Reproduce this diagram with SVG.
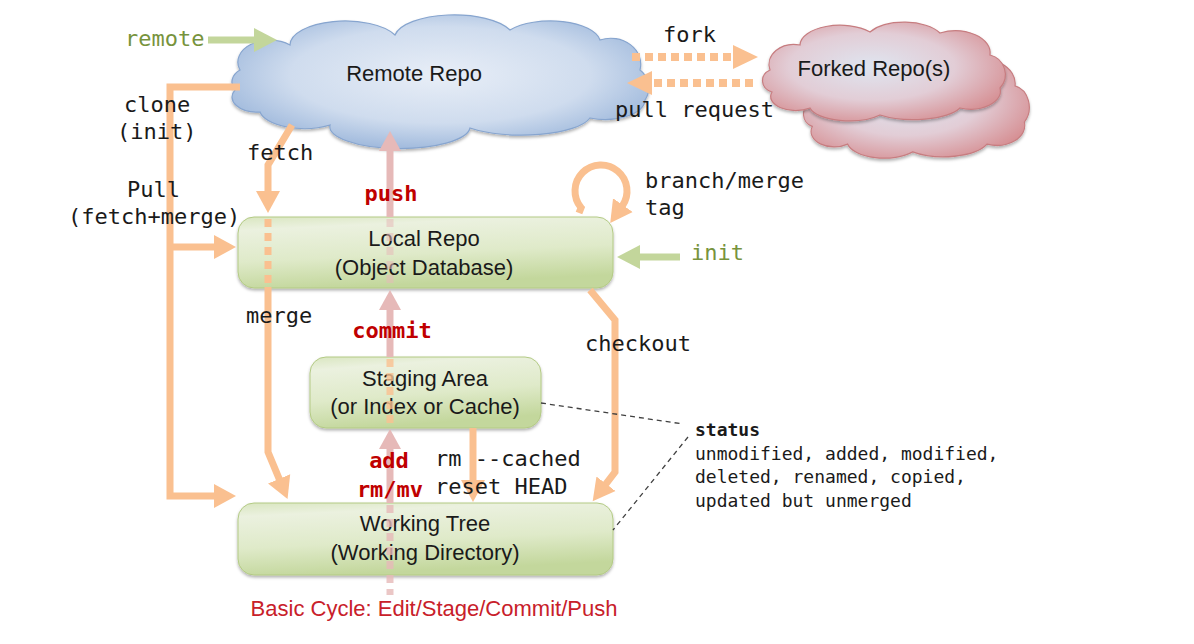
<svg xmlns="http://www.w3.org/2000/svg" width="1194" height="644" viewBox="0 0 1194 644">
<style>
.mono{font-family:"DejaVu Sans Mono","Liberation Mono",monospace;font-size:22px;fill:#1a1a1a}
.green{fill:#77933C}
.red{fill:#C00000;font-weight:bold;text-anchor:middle}
.st{font-family:"DejaVu Sans Mono","Liberation Mono",monospace;font-size:18px;fill:#1a1a1a}
.nt{font-family:"Liberation Sans",Arial,sans-serif;font-size:22px;fill:#1a1a1a;text-anchor:middle}
.box{fill:url(#gBox);stroke:#b3ca84;stroke-width:1;filter:url(#sh)}
.o{fill:none;stroke:#FAC090;stroke-width:7}
.p{fill:none;stroke:#E6B9B8;stroke-width:7}
.g{fill:none;stroke:#C3D69B;stroke-width:7}
.dot{fill:none;stroke:#FAC090;stroke-width:8;stroke-dasharray:8 5}
.dsh{stroke-dasharray:8 6}
.blk{fill:none;stroke:#404040;stroke-width:1.3;stroke-dasharray:5 4}
</style>
<defs>
<linearGradient id="gBox" x1="0" y1="0" x2="0.25" y2="1">
<stop offset="0" stop-color="#d9e6c0"/>
<stop offset="0.18" stop-color="#ebf1df"/>
<stop offset="0.6" stop-color="#dfeac9"/>
<stop offset="1" stop-color="#c3d79c"/>
</linearGradient>
<radialGradient id="gBlue" cx="0.5" cy="0.45" r="0.6">
<stop offset="0" stop-color="#e8eef7"/>
<stop offset="0.6" stop-color="#cfdcee"/>
<stop offset="1" stop-color="#97b3d9"/>
</radialGradient>
<radialGradient id="gRed" cx="0.45" cy="0.45" r="0.62">
<stop offset="0" stop-color="#dfe5f0"/>
<stop offset="0.55" stop-color="#e2cdd6"/>
<stop offset="1" stop-color="#d68f93"/>
</radialGradient>
<filter id="sh" x="-10%" y="-10%" width="120%" height="130%">
<feDropShadow dx="0" dy="2" stdDeviation="1.5" flood-color="#000" flood-opacity="0.3"/>
</filter>
<marker id="ahO" markerUnits="userSpaceOnUse" viewBox="0 -13 24 26" markerWidth="24" markerHeight="26" refX="1" refY="0" orient="auto"><path d="M0,-12 L22,0 L0,12 Z" fill="#FAC090"/></marker>
<marker id="ahF" markerUnits="userSpaceOnUse" viewBox="0 -13 26 26" markerWidth="26" markerHeight="26" refX="0" refY="0" orient="auto"><path d="M0,-12 L25,0 L0,12 Z" fill="#FAC090"/></marker>
<marker id="ahP" markerUnits="userSpaceOnUse" viewBox="0 -12 22 24" markerWidth="22" markerHeight="24" refX="1" refY="0" orient="auto"><path d="M0,-11 L20,0 L0,11 Z" fill="#E6B9B8"/></marker>
<marker id="ahG" markerUnits="userSpaceOnUse" viewBox="0 -13 24 26" markerWidth="24" markerHeight="26" refX="1" refY="0" orient="auto"><path d="M0,-12 L23,0 L0,12 Z" fill="#C3D69B"/></marker>
<path id="fcloud" d="M770,70 A25,20 0 0 1 800,45 A40,20 0 0 1 870,32 A40,20 0 0 1 940,33 A35,22 0 0 1 990,55 A20,20 0 0 1 1000,88 A30,18 0 0 1 960,108 A50,18 0 0 1 880,115 A40,16 0 0 1 810,108 A25,14 0 0 1 772,92 A14,12 0 0 1 770,70 Z"/>
</defs>

<g id="node-remote">
<path d="M240,70 A32,22 0 0 1 290,45 A55,24 0 0 1 395,35 A60,24 0 0 1 510,30 A50,22 0 0 1 600,40 A30,26 0 0 1 640,70 A22,22 0 0 1 645,100 A40,20 0 0 1 590,118 A70,22 0 0 1 470,128 A70,22 0 0 1 330,125 A45,20 0 0 1 260,112 A25,15 0 0 1 235,90 A20,15 0 0 1 240,70 Z" fill="url(#gBlue)" stroke="#87a5cf" stroke-width="1.2" filter="url(#sh)"/>
<text class="nt" x="414" y="81">Remote Repo</text>
</g>

<g id="node-forked">
<use href="#fcloud" transform="translate(803,55) scale(0.93,1.1) translate(-762,-27)" fill="url(#gRed)" stroke="#c77d80" stroke-width="1.2" filter="url(#sh)"/>
<use href="#fcloud" fill="url(#gRed)" stroke="#c77d80" stroke-width="1.2" filter="url(#sh)"/>
<text class="nt" x="874" y="76">Forked Repo(s)</text>
</g>

<g id="node-local">
<rect class="box" x="238" y="217" width="375" height="71" rx="16"/>
<text class="nt" x="424" y="246">Local Repo</text>
<text class="nt" x="424" y="275">(Object Database)</text>
</g>

<g id="node-staging">
<rect class="box" x="310" y="357" width="231" height="71" rx="16"/>
<text class="nt" x="425" y="386">Staging Area</text>
<text class="nt" x="425" y="414">(or Index or Cache)</text>
</g>

<g id="node-working">
<rect class="box" x="238" y="503" width="375" height="72" rx="16"/>
<text class="nt" x="425" y="531">Working Tree</text>
<text class="nt" x="425" y="560">(Working Directory)</text>
</g>

<g id="connectors">
<path class="o" d="M240,87 H170 V496 H215" marker-end="url(#ahO)"/>
<path class="o" d="M170,247 H215" marker-end="url(#ahO)"/>
<path class="o" d="M292,125 L268,165 V192" marker-end="url(#ahO)"/>
<path class="o dsh" d="M268,219 V287"/>
<path class="o" d="M268,287 V452 L279.5,479.7" marker-end="url(#ahO)"/>
<path class="o" d="M590,290 L615,320 V472 L605.4,484.6" marker-end="url(#ahO)"/>
<path class="o" d="M473,428 V481" marker-end="url(#ahO)"/>
<path class="o" d="M579,213 L581.1,207.7 A26,26 0 1 1 622.3,205.9" marker-end="url(#ahO)"/>
<path class="p" d="M390,217 V150" marker-end="url(#ahP)"/>
<path class="p" d="M390,357 V309" marker-end="url(#ahP)"/>
<path class="p" d="M390,503 V448" marker-end="url(#ahP)"/>
<path class="p dsh" d="M390,219 V287" opacity="0.55"/>
<path class="o dsh" d="M390,359 V427" opacity="0.8"/>
<path class="p dsh" d="M390,505 V595" opacity="0.8"/>
<path class="g" d="M208,40 H255" marker-end="url(#ahG)"/>
<path class="g" d="M680,257 H639" marker-end="url(#ahG)"/>
<path class="dot" d="M632,57 H733" marker-end="url(#ahF)"/>
<path class="dot" d="M753,83 H652" marker-end="url(#ahF)"/>
<path class="blk" d="M541,403 L683,424"/>
<path class="blk" d="M688,437 L613,530"/>
</g>

<g id="labels">
<text class="mono green" x="125" y="46">remote</text>
<text class="mono" x="124" y="112">clone</text>
<text class="mono" x="117" y="139">(init)</text>
<text class="mono" x="247" y="160">fetch</text>
<text class="mono" x="127" y="197">Pull</text>
<text class="mono" x="68" y="224">(fetch+merge)</text>
<text class="mono" x="246" y="323">merge</text>
<text class="mono" x="585" y="351">checkout</text>
<text class="mono" x="645" y="188">branch/merge</text>
<text class="mono" x="645" y="215">tag</text>
<text class="mono green" x="691" y="260">init</text>
<text class="mono" x="663" y="42">fork</text>
<text class="mono" x="615" y="117">pull request</text>
<text class="mono red" x="391" y="201">push</text>
<text class="mono red" x="392" y="338">commit</text>
<text class="mono red" x="389" y="468">add</text>
<text class="mono red" x="390" y="497">rm/mv</text>
<text class="mono" x="435" y="466">rm --cached</text>
<text class="mono" x="435" y="494">reset HEAD</text>
<text class="st" x="695" y="436" font-weight="bold">status</text>
<text class="st" x="695" y="460">unmodified, added, modified,</text>
<text class="st" x="695" y="483">deleted, renamed, copied,</text>
<text class="st" x="695" y="507">updated but unmerged</text>
<text class="nt" x="434" y="616" style="fill:#C8202A">Basic Cycle: Edit/Stage/Commit/Push</text>
</g>
</svg>
